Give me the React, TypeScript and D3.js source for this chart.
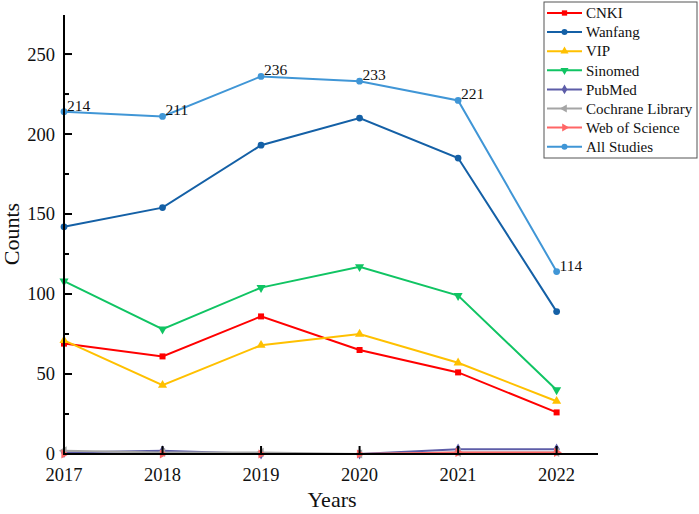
import React from "react";
import * as d3 from "d3";

const years = [2017, 2018, 2019, 2020, 2021, 2022];

const cnki = [69, 61, 86, 65, 51, 26];
const wanfang = [142, 154, 193, 210, 185, 89];
const vip = [71, 43, 68, 75, 57, 33];
const sinomed = [108, 78, 104, 117, 99, 40];
const pubmed = [1, 2, 0, 0, 3, 3];
const cochrane = [2, 1, 1, 0, 1, 1];
const webOfScience = [0, 0, 0, 0, 1, 1];
const allStudies = [214, 211, 236, 233, 221, 114];

const yTicks = [0, 50, 100, 150, 200, 250];

interface Series {
  name: string;
  values: number[];
  color: string;
  symbol: d3.SymbolType;
  rotate: number;
}

const series: Series[] = [
  { name: "CNKI", values: cnki, color: "#ff0000", symbol: d3.symbolSquare, rotate: 0 },
  { name: "Wanfang", values: wanfang, color: "#1460a6", symbol: d3.symbolCircle, rotate: 0 },
  { name: "VIP", values: vip, color: "#ffc000", symbol: d3.symbolTriangle, rotate: 0 },
  { name: "Sinomed", values: sinomed, color: "#10c463", symbol: d3.symbolTriangle, rotate: 180 },
  { name: "PubMed", values: pubmed, color: "#5d5da8", symbol: d3.symbolDiamond, rotate: 0 },
  { name: "Cochrane Library", values: cochrane, color: "#a5a5a5", symbol: d3.symbolTriangle, rotate: -90 },
  { name: "Web of Science", values: webOfScience, color: "#ff6666", symbol: d3.symbolTriangle, rotate: 90 },
  { name: "All Studies", values: allStudies, color: "#4096d6", symbol: d3.symbolCircle, rotate: 0 },
];

const WIDTH = 699;
const HEIGHT = 514;
const FONT = "'Liberation Serif', 'Times New Roman', serif";

const App = () => {
  const xScale = d3.scaleLinear().domain([2017, 2022.42]).range([64, 598]);
  const yScale = d3.scaleLinear().domain([0, 274.4]).range([454, 15]);

  const line = d3
    .line<number>()
    .x((_, i) => xScale(years[i]))
    .y((d) => yScale(d));

  const markerPath = (s: Series, size: number) =>
    d3.symbol().type(s.symbol).size(size)() || "";

  const minorTicks = d3.range(25, 275, 50);

  const legendX = 544;
  const legendY = 2;
  const rowH = 19.1;

  return (
    <svg
      width={WIDTH}
      height={HEIGHT}
      style={{ position: "absolute", left: 0, top: 0, background: "white" }}
      fontFamily={FONT}
    >
      {/* series */}
      {series.map((s) => (
        <g key={s.name}>
          <path d={line(s.values) || ""} fill="none" stroke={s.color} strokeWidth={2} />
          {s.values.map((v, i) => (
            <path
              key={i}
              d={markerPath(s, 36)}
              fill={s.color}
              transform={`translate(${xScale(years[i])},${yScale(v)}) rotate(${s.rotate})`}
            />
          ))}
        </g>
      ))}

      {/* value labels for All Studies */}
      {allStudies.map((v, i) => (
        <text key={i} x={xScale(years[i]) + 3} y={yScale(v) - 1} fontSize={15.5} fill="#111">
          {v}
        </text>
      ))}

      {/* y axis */}
      <line x1={64} x2={64} y1={yScale(0)} y2={yScale(274.4)} stroke="black" strokeWidth={2} />
      {yTicks.map((t) => (
        <g key={t}>
          <line x1={64} x2={72} y1={yScale(t)} y2={yScale(t)} stroke="black" strokeWidth={2} />
          <text
            x={55}
            y={yScale(t)}
            dy="0.35em"
            textAnchor="end"
            fontSize={18.5}
            fill="#111"
          >
            {t}
          </text>
        </g>
      ))}
      {minorTicks.map((t) => (
        <line key={t} x1={64} x2={69} y1={yScale(t)} y2={yScale(t)} stroke="black" strokeWidth={2} />
      ))}

      {/* x axis */}
      <line x1={63} x2={xScale(2022.42)} y1={yScale(0)} y2={yScale(0)} stroke="black" strokeWidth={2} />
      {years.map((yr) => (
        <g key={yr}>
          <line x1={xScale(yr)} x2={xScale(yr)} y1={yScale(0)} y2={yScale(0) - 8} stroke="black" strokeWidth={2} />
          <text x={xScale(yr)} y={481} textAnchor="middle" fontSize={18.5} fill="#111">
            {yr}
          </text>
        </g>
      ))}

      {/* axis titles */}
      <text x={332} y={507} textAnchor="middle" fontSize={22} fill="#111">
        Years
      </text>
      <text
        transform="translate(19,234) rotate(-90)"
        textAnchor="middle"
        fontSize={22}
        fill="#111"
      >
        Counts
      </text>

      {/* legend */}
      <rect
        x={legendX}
        y={legendY}
        width={153}
        height={156}
        fill="white"
        stroke="#555"
        strokeWidth={1}
      />
      {series.map((s, i) => {
        const cy = legendY + 11 + i * rowH;
        return (
          <g key={s.name}>
            <line x1={547} x2={582} y1={cy} y2={cy} stroke={s.color} strokeWidth={2} />
            <path
              d={markerPath(s, 28)}
              fill={s.color}
              transform={`translate(564.5,${cy}) rotate(${s.rotate})`}
            />
            <text x={586} y={cy} dy="0.35em" fontSize={15} fill="#111">
              {s.name}
            </text>
          </g>
        );
      })}
    </svg>
  );
};

export default App;
